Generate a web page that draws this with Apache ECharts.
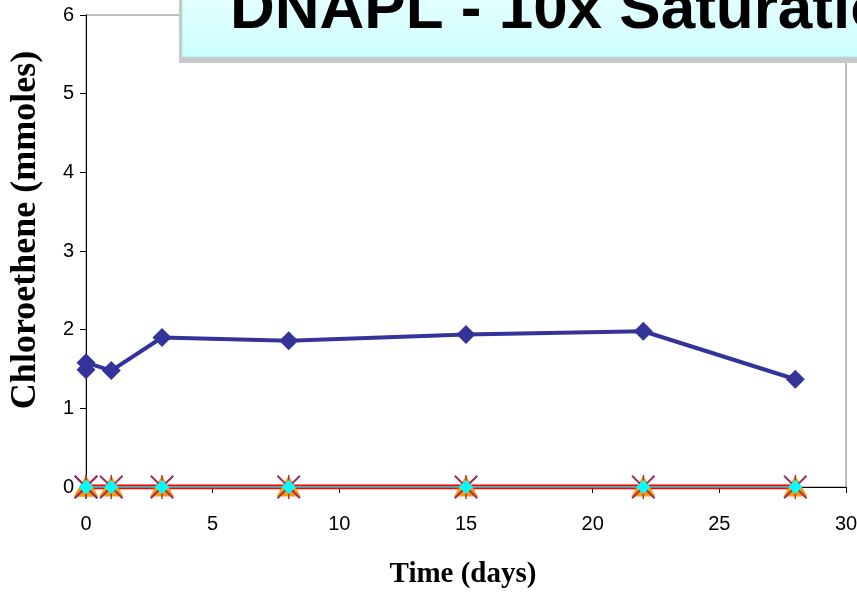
<!DOCTYPE html>
<html>
<head>
<meta charset="utf-8">
<script src="https://cdn.jsdelivr.net/npm/echarts@6/dist/echarts.min.js"></script>
<style>
  html, body { margin: 0; padding: 0; background: #fff; }
  #chart { width: 857px; height: 593px; }
</style>
</head>
<body>
<div id="chart"></div>
<script>
// Sampling times (days) and measured chloroethene amounts (mmoles)
const timeDays = [0, 0, 1, 3, 8, 15, 22, 28];
const chloroethene = [1.49, 1.58, 1.48, 1.90, 1.86, 1.94, 1.98, 1.37];
// Daughter products, all below detection over the run
const zeroTimes = [0, 0, 1, 3, 8, 15, 22, 28];
const productA = [0, 0, 0, 0, 0, 0, 0, 0];
const productB = [0, 0, 0, 0, 0, 0, 0, 0];
const productC = [0, 0, 0, 0, 0, 0, 0, 0];

const xTicks = { min: 0, max: 30, interval: 5 };
const yTicks = { min: 0, max: 6, interval: 1 };
const titleText = 'DNAPL - 10x Saturation';
const xTitle = 'Time (days)';
const yTitle = 'Chloroethene (mmoles)';

const pairs = (xs, ys) => xs.map((x, i) => [x, ys[i]]);

// Star marker: X with a vertical stroke, as filled thin bars
const starPath = 'path://M0,1.2L1.2,0L10,8.8L18.8,0L20,1.2L11.2,10L20,18.8L18.8,20L10,11.2L1.2,20L0,18.8L8.8,10Z M9.4,0L10.6,0L10.6,20L9.4,20Z';

const chart = echarts.init(document.getElementById('chart'));
chart.setOption({
  animation: false,
  backgroundColor: '#ffffff',
  grid: {
    left: 86, right: 11, top: 15, bottom: 106,
    containLabel: false, outerBoundsMode: 'none',
    show: true, borderColor: '#808080', borderWidth: 1, backgroundColor: 'transparent'
  },
  xAxis: {
    type: 'value', min: xTicks.min, max: xTicks.max, interval: xTicks.interval,
    axisLine: { lineStyle: { color: '#000', width: 1 } },
    axisTick: { inside: false, length: 6, lineStyle: { color: '#000' } },
    axisLabel: { fontFamily: 'Liberation Sans', fontSize: 20, color: '#000', margin: 27 },
    splitLine: { show: false }
  },
  yAxis: {
    type: 'value', min: yTicks.min, max: yTicks.max, interval: yTicks.interval,
    axisLine: { lineStyle: { color: '#000', width: 1 } },
    axisTick: { inside: false, length: 6, lineStyle: { color: '#000' } },
    axisLabel: { fontFamily: 'Liberation Sans', fontSize: 20, color: '#000', margin: 12 },
    splitLine: { show: false }
  },
  series: [
    {
      name: 'Product A', type: 'line', data: pairs(zeroTimes, productA), z: 3,
      lineStyle: { color: '#ff0000', width: 5 },
      symbol: 'triangle', symbolSize: [24, 21], symbolOffset: [0, -1],
      itemStyle: { color: '#ff9900' }
    },
    {
      name: 'Product B', type: 'line', data: pairs(zeroTimes, productB), z: 4,
      lineStyle: { color: '#33cccc', width: 1.5 },
      symbol: starPath, symbolSize: 24,
      itemStyle: { color: '#993366' }
    },
    {
      name: 'Product C', type: 'line', data: pairs(zeroTimes, productC), z: 5,
      lineStyle: { color: '#33cccc', width: 1 },
      symbol: 'diamond', symbolSize: 14,
      itemStyle: { color: '#00ffff' }
    },
    {
      name: 'Chloroethene', type: 'line', data: pairs(timeDays, chloroethene), z: 6,
      lineStyle: { color: '#333399', width: 4 },
      symbol: 'diamond', symbolSize: 19,
      itemStyle: { color: '#333399' }
    }
  ],
  graphic: [
    // axis titles
    { type: 'text', x: 463, y: 575, z: 50,
      style: { text: xTitle, fontFamily: 'Liberation Serif', fontWeight: 'bold', fontSize: 29, fill: '#000', align: 'center', verticalAlign: 'middle' } },
    { type: 'text', x: 26, y: 230, rotation: Math.PI / 2, z: 50,
      style: { text: yTitle, fontFamily: 'Liberation Serif', fontWeight: 'bold', fontSize: 36, fill: '#000', align: 'center', verticalAlign: 'middle' } },
    // title banner with drop shadow
    { type: 'rect', x: 179, y: -10, z: 100, shape: { width: 700, height: 73 }, style: { fill: '#c8c8c8' } },
    { type: 'rect', x: 182, y: -10, z: 101, shape: { width: 700, height: 67 },
      style: { fill: new echarts.graphic.LinearGradient(0, 0, 0, 1, [
        { offset: 0, color: '#e8ffff' }, { offset: 1, color: '#ccffff' }
      ]), stroke: '#b0e0e0', lineWidth: 1 } },
    { type: 'text', x: 230, y: -20, z: 102,
      style: { text: titleText, fontFamily: 'Liberation Sans', fontWeight: 'bold', fontSize: 62, fill: '#000', verticalAlign: 'top' } }
  ]
});
</script>
</body>
</html>
